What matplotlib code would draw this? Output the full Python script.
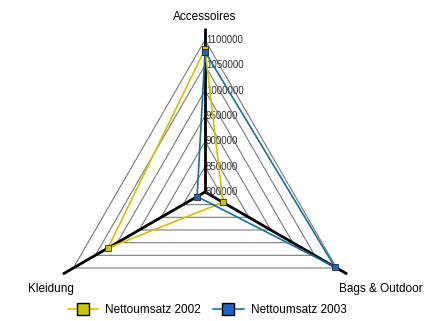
import matplotlib
matplotlib.use("Agg")
import matplotlib.pyplot as plt
import numpy as np
from matplotlib.lines import Line2D

plt.rcParams["font.family"] = ["Liberation Sans", "DejaVu Sans"]

# data
categories = ["Accessoires", "Bags & Outdoor", "Kleidung"]
series_names = ["Nettoumsatz 2002", "Nettoumsatz 2003"]
umsatz_2002 = [1082000, 841000, 1021000]
umsatz_2003 = [1077000, 1096000, 818000]
levels = [800000, 850000, 900000, 950000, 1000000, 1050000, 1100000]
level_labels = ["800000", "850000", "900000", "950000", "1000000", "1050000", "1100000"]

# layout in pixel units
CX, CY, R = 205, 192, 152
angles = np.deg2rad([90, -30, 210])
vmin, vmax = levels[0], levels[-1]


def to_xy(values, scale=None):
    r = (np.asarray(values, dtype=float) - vmin) / (vmax - vmin) * R
    if scale is not None:
        r = np.full(len(angles), scale * R)
    return CX + r * np.cos(angles), CY - r * np.sin(angles)


fig = plt.figure(figsize=(4.37, 3.21), dpi=100)
ax = fig.add_axes([0, 0, 1, 1])
ax.set_xlim(0, 437)
ax.set_ylim(321, 0)
ax.axis("off")

# triangular grid
for lv in levels[1:]:
    xs, ys = to_xy([lv] * 3)
    ax.plot(np.append(xs, xs[0]), np.append(ys, ys[0]), color="#7a7a7a", lw=0.8, zorder=1)

# spokes
ex, ey = to_xy(None, scale=1.08)
for x, y in zip(ex, ey):
    ax.plot([CX, x], [CY, y], color="black", lw=2, zorder=2, solid_capstyle="butt")

# tick labels along the top spoke
for lv, lab in zip(levels, level_labels):
    _, ys = to_xy([lv] * 3)
    ax.text(206, ys[0], lab, ha="left", va="center", fontsize=7, color="#333333", zorder=3)

# series
styles = [
    dict(color="#d8c000", mfc="#c8c800"),
    dict(color="#1a6e9e", mfc="#1e64c8"),
]
handles = []
for vals, name, st in zip([umsatz_2002, umsatz_2003], series_names, styles):
    xs, ys = to_xy(vals)
    ax.plot(np.append(xs, xs[0]), np.append(ys, ys[0]), color=st["color"], lw=1.2,
            marker="s", markersize=4, markerfacecolor=st["mfc"], markeredgecolor="#303030",
            markeredgewidth=0.6, zorder=4)
    handles.append(Line2D([], [], color=st["color"], lw=1.2, marker="s", markersize=8,
                          markerfacecolor=st["mfc"], markeredgecolor="black",
                          markeredgewidth=1, label=name))

# category labels
ax.text(205, 17, categories[0], ha="center", va="center", fontsize=8.5)
ax.text(339, 289, categories[1], ha="left", va="center", fontsize=8.5)
ax.text(28, 289, categories[2], ha="left", va="center", fontsize=8.5)

fig.legend(handles=handles, loc="center", bbox_to_anchor=(207 / 437, 1 - 310 / 321), ncol=2,
           frameon=False, fontsize=8.5, handlelength=2.6, columnspacing=1.0,
           handletextpad=0.6)

fig.savefig("out.png", dpi=100)
